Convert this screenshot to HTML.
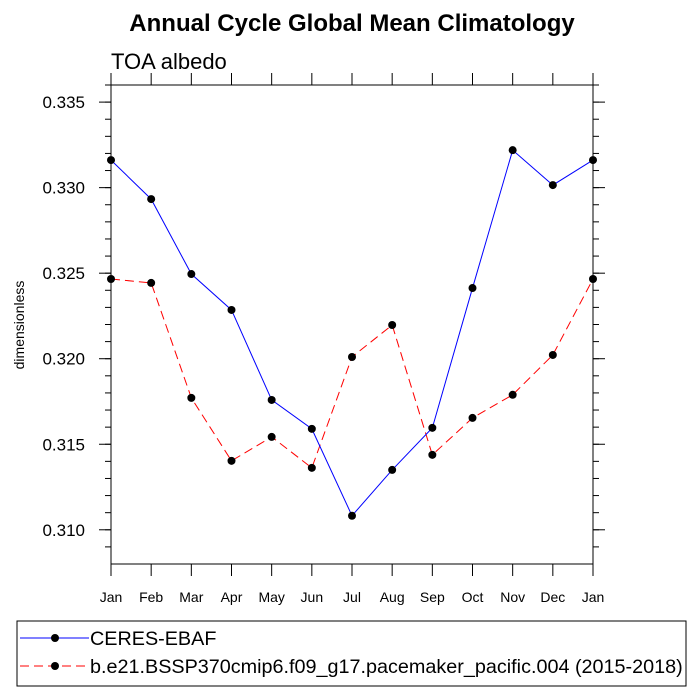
<!DOCTYPE html>
<html><head><meta charset="utf-8"><style>
body{margin:0;background:#fff;}
svg{display:block;font-family:"Liberation Sans",Arial,sans-serif;}
</style></head><body>
<svg id="chart" width="700" height="700" viewBox="0 0 700 700">
<text x="352" y="31" text-anchor="middle" font-size="24" font-weight="bold">Annual Cycle Global Mean Climatology</text>
<text x="111" y="69" font-size="22">TOA albedo</text>
<text transform="translate(24,325) rotate(-90)" text-anchor="middle" font-size="14">dimensionless</text>
<g id="axes"></g>
<g id="series"></g>
<rect x="17" y="621" width="669" height="65" fill="none" stroke="#000" stroke-width="1"/>
<g>
<line x1="20" y1="638" x2="89" y2="638" stroke="#0000ff" stroke-width="1"/>
<circle cx="55" cy="638" r="4" fill="#000"/>
<text x="90" y="645" font-size="19.8">CERES-EBAF</text>
</g>
<g>
<line x1="20" y1="666" x2="89" y2="666" stroke="#ff0000" stroke-width="1" stroke-dasharray="9,5"/>
<circle cx="55" cy="666" r="4" fill="#000"/>
<text x="90" y="673" font-size="19.8">b.e21.BSSP370cmip6.f09_g17.pacemaker_pacific.004 (2015-2018)</text>
</g>
</svg>
<script>
const months=["Jan","Feb","Mar","Apr","May","Jun","Jul","Aug","Sep","Oct","Nov","Dec","Jan"];
const ceres=[0.33161,0.32933,0.32495,0.32285,0.31759,0.3159,0.31082,0.3135,0.31596,0.32413,0.33219,0.33015,0.33161];
const model=[0.32466,0.32443,0.31771,0.31403,0.31543,0.31362,0.3201,0.32197,0.31438,0.31654,0.31789,0.32022,0.32466];
const yTicks=[0.310,0.315,0.320,0.325,0.330,0.335];
const yTickLabels=["0.310","0.315","0.320","0.325","0.330","0.335"];
const L=111,R=593,T=85,B=564,ymin=0.308,ymax=0.336;
const ns="http://www.w3.org/2000/svg";
function X(i){return L+(R-L)*i/(months.length-1);}
function Y(v){return B-(v-ymin)/(ymax-ymin)*(B-T);}
function mk(tag,attrs,parent){const e=document.createElementNS(ns,tag);for(const k in attrs)e.setAttribute(k,attrs[k]);parent.appendChild(e);return e;}
const ax=document.getElementById('axes');
const frame=mk('rect',{x:L,y:T,width:R-L,height:B-T,fill:'none',stroke:'#000','stroke-width':1},ax);


for(let i=0;i<months.length;i++){
 const x=X(i);
 mk('line',{x1:x,y1:B,x2:x,y2:B+12,stroke:'#000'},ax);
 mk('line',{x1:x,y1:T,x2:x,y2:T-12,stroke:'#000'},ax);
 const t=mk('text',{x:x,y:B+38,'text-anchor':'middle','font-size':14},ax);
 t.textContent=months[i];
 
 
}
for(let v=0.309;v<0.3360001;v+=0.001){
 const y=Y(v);
 mk('line',{x1:L,y1:y,x2:L-6,y2:y,stroke:'#000'},ax);
 mk('line',{x1:R,y1:y,x2:R+6,y2:y,stroke:'#000'},ax);
}
yTicks.forEach((v,i)=>{
 const y=Y(v);
 mk('line',{x1:L,y1:y,x2:L-12,y2:y,stroke:'#000'},ax);
 mk('line',{x1:R,y1:y,x2:R+12,y2:y,stroke:'#000'},ax);
 const t=mk('text',{x:L-26,y:y+6,'text-anchor':'end','font-size':17},ax);
 t.textContent=yTickLabels[i];
 
 
});
const sg=document.getElementById('series');
function draw(vals,color,dash,name){
 const g=mk('g',{},sg);
 
 
 const a={points:vals.map((v,i)=>X(i)+','+Y(v)).join(' '),fill:'none',stroke:color,'stroke-width':1};
 if(dash)a['stroke-dasharray']=dash;
 mk('polyline',a,g);
 vals.forEach((v,i)=>{
  const c=mk('circle',{cx:X(i),cy:Y(v),r:4,fill:'#000'},g);
  
  
 });
}
draw(model,'#ff0000','9,5','series-model');
draw(ceres,'#0000ff',null,'series-ceres');
</script>
</body></html>
